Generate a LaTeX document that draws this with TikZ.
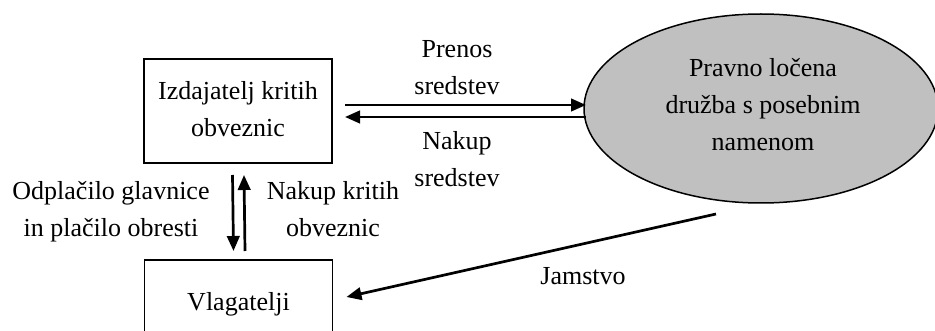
\documentclass[tikz,border=0pt]{standalone}
\usepackage{fontspec}
\setmainfont{Liberation Serif}
\usetikzlibrary{arrows.meta,shapes.geometric}
\definecolor{spvgray}{RGB}{192,192,192}
\tikzset{
  % multi-line labels are placed by the baseline of their last line
  lbl/.style={font=\fontsize{26}{37}\selectfont, align=center, inner sep=0pt, anchor=base},
  boxnode/.style={draw, line width=1.9pt, inner sep=0pt, outer sep=0pt},
  arr/.style={line width=2.7pt, -{Triangle[length=15pt,width=12.5pt]}},
}
\begin{document}
\begin{tikzpicture}[x=1pt,y=-1pt]
  \useasboundingbox (0,0) rectangle (935,331);
  \clip (0,0) rectangle (935,331);

  % entities
  \node[boxnode, minimum width=188pt, minimum height=104pt] (izd) at (238,111) {};
  \node[lbl] (izdt) at (238,137) {Izdajatelj kritih\\obveznic};

  \node[boxnode, minimum width=188pt, minimum height=90pt] (vla) at (238.5,305) {};
  \node[lbl] (vlat) at (238.5,310) {Vlagatelji};

  \node[draw, ellipse, fill=spvgray, line width=1.5pt, inner sep=0pt, outer sep=0pt,
        minimum width=354pt, minimum height=189pt] (spv) at (761,108.5) {};
  \node[lbl] (spvt) at (763,151) {Pravno ločena\\družba s posebnim\\namenom};

  % flows between issuer and SPV
  \draw[arr, shorten >=11pt] ([shift={(13,-6)}]izd.east) -- ([shift={(13,-6)}]izd.east -| spv.west);
  \draw[arr, shorten <=11pt] ([shift={(13,6)}]izd.east -| spv.west) -- ([shift={(13,6)}]izd.east);
  \node[lbl] (prenos) at (457,95) {Prenos\\sredstev};
  \node[lbl] (nakup) at (457,187) {Nakup\\sredstev};

  % flows between issuer and investors
  \draw[arr] ([shift={(-5.5,12)}]izd.south) -- ([shift={(-5,-9)}]vla.north);
  \draw[arr] ([shift={(6.5,-9)}]vla.north) -- ([shift={(6,12)}]izd.south);
  \node[lbl] (odpl) at (111,237) {Odplačilo glavnice\\in plačilo obresti};
  \node[lbl] (nkob) at (333,237) {Nakup kritih\\obveznic};

  % guarantee
  \draw[arr] ([shift={(-45,11)}]spv.south) -- ([shift={(14,-8)}]vla.east);
  \node[lbl] (jam) at (583,284) {Jamstvo};
\end{tikzpicture}
\end{document}
